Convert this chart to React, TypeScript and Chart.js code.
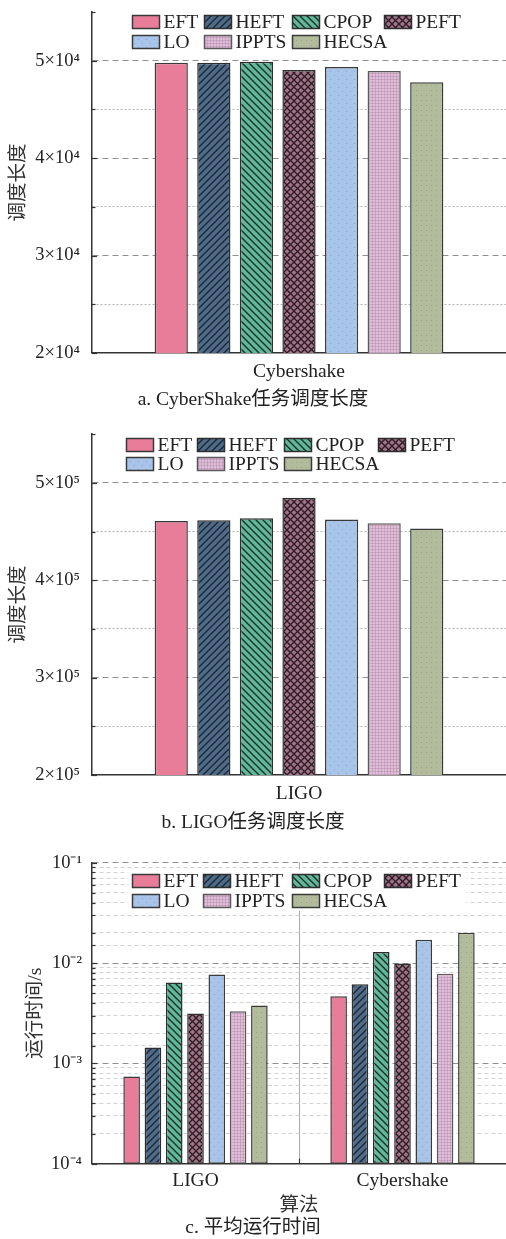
import React, { useEffect, useRef } from "react";
import { Chart, registerables } from "chart.js";

Chart.register(...registerables);

// ---------------- data ----------------
const ALGORITHMS = ["EFT", "HEFT", "CPOP", "PEFT", "LO", "IPPTS", "HECSA"];
const SINGLE_CYBERSHAKE = ["Cybershake"];
const SINGLE_LIGO = ["LIGO"];
const CYBERSHAKE_MAKESPAN = [49800, 49800, 49900, 49050, 49350, 48950, 47800];
const LIGO_MAKESPAN = [460800, 461500, 463600, 484700, 462200, 458500, 453000];
const RUNTIME_CATEGORIES = ["LIGO", "Cybershake"];
const RUNTIME_LIGO = [0.00074, 0.00144, 0.0064, 0.00315, 0.0077, 0.0033, 0.00377];
const RUNTIME_CYBERSHAKE = [0.00468, 0.00615, 0.0129, 0.0099, 0.0171, 0.0078, 0.02];
const CYBER_TICK_LABELS = ["2×10⁴", "3×10⁴", "4×10⁴", "5×10⁴"];
const LIGO_TICK_LABELS = ["2×10⁵", "3×10⁵", "4×10⁵", "5×10⁵"];
const LOG_TICK_LABELS = ["10⁻⁴", "10⁻³", "10⁻²", "10⁻¹"];

// ---------------- styles ----------------
const FONT = "'Liberation Serif', 'Times New Roman', 'Noto Sans CJK SC', serif";
Chart.defaults.font.family = FONT;
Chart.defaults.color = "#222";

type PatternKind = "solid" | "slash" | "backslash" | "cross" | "dots" | "grid" | "fineDots";

function makePattern(kind: PatternKind, bg: string, fg: string): CanvasPattern | string {
  if (kind === "solid") return bg;
  const s = kind === "cross" ? 7 : kind === "grid" ? 3 : kind === "dots" ? 8 : kind === "fineDots" ? 5 : 7;
  const c = document.createElement("canvas");
  c.width = s;
  c.height = s;
  const g = c.getContext("2d")!;
  g.fillStyle = bg;
  g.fillRect(0, 0, s, s);
  g.strokeStyle = fg;
  g.fillStyle = fg;
  g.lineWidth = 1.3;
  const line = (x1: number, y1: number, x2: number, y2: number) => {
    g.beginPath();
    g.moveTo(x1, y1);
    g.lineTo(x2, y2);
    g.stroke();
  };
  if (kind === "slash" || kind === "cross") {
    line(-1, s + 1, s + 1, -1);
    line(-1, 1, 1, -1);
    line(s - 1, s + 1, s + 1, s - 1);
  }
  if (kind === "backslash" || kind === "cross") {
    line(-1, -1, s + 1, s + 1);
    line(s - 1, -1, s + 1, 1);
    line(-1, s - 1, 1, s + 1);
  }
  if (kind === "dots") {
    g.fillRect(2, 2, 1, 1);
    g.fillRect(6, 6, 1, 1);
  }
  if (kind === "fineDots") {
    g.fillRect(1, 1, 1, 1);
  }
  if (kind === "grid") {
    g.globalAlpha = 0.3;
    g.fillRect(0, 0, s, 1);
    g.fillRect(0, 0, 1, s);
  }
  return g.createPattern(c, "repeat")!;
}

const STYLE_DEFS: { kind: PatternKind; bg: string; fg: string; border: string }[] = [
  { kind: "solid", bg: "#E87D9A", fg: "#E87D9A", border: "#3a3a3a" },
  { kind: "slash", bg: "#4E6C8A", fg: "#1d2530", border: "#2e2e2e" },
  { kind: "backslash", bg: "#5FB899", fg: "#1c2a25", border: "#2e2e2e" },
  { kind: "cross", bg: "#A27387", fg: "#2a1d23", border: "#2e2e2e" },
  { kind: "dots", bg: "#A8C4E8", fg: "#8ea9cf", border: "#3a3a3a" },
  { kind: "grid", bg: "#E0BDD8", fg: "#9c6f93", border: "#5a5a5a" },
  { kind: "fineDots", bg: "#B3BB9D", fg: "#9da688", border: "#3a3a3a" },
];

// ---------------- custom column legend ----------------
const gridLegend = {
  id: "gridLegend",
  afterDraw(chart: any, _args: any, opts: any) {
    const { ctx, chartArea } = chart;
    const cols: number[] = opts.cols;
    const rows: number[] = opts.rows;
    const boxW = 27;
    const boxH = 13;
    ctx.save();
    ctx.font = `19.5px ${FONT}`;
    const left = chartArea.left + cols[0] - 4;
    const right = chartArea.left + cols[3] + boxW + 4 + ctx.measureText("PEFT").width + 6;
    ctx.fillStyle = "#fff";
    ctx.fillRect(left, chartArea.top + rows[0] - 11, right - left, rows[1] - rows[0] + 22);
    chart.data.datasets.forEach((ds: any, i: number) => {
      const r = Math.floor(i / 4);
      const c = i % 4;
      const x = Math.round(chartArea.left + cols[c]) + 0.5;
      const y = Math.round(chartArea.top + rows[r] - boxH / 2) + 0.5;
      ctx.fillStyle = ds.backgroundColor;
      ctx.fillRect(x, y, boxW, boxH);
      ctx.lineWidth = 1.5;
      ctx.strokeStyle = ds.borderColor;
      ctx.strokeRect(x, y, boxW, boxH);
      ctx.fillStyle = "#222";
      ctx.textAlign = "left";
      ctx.textBaseline = "middle";
      ctx.fillText(ds.label, x + boxW + 4, y + boxH / 2 + 1);
    });
    ctx.restore();
  },
};

// ---------------- inward tick marks ----------------
const innerTicks = {
  id: "innerTicks",
  afterDatasetsDraw(chart: any, _args: any, opts: any) {
    const { ctx } = chart;
    const ys = chart.scales.y;
    const xs = chart.scales.x;
    ctx.save();
    ctx.strokeStyle = "#333";
    ctx.lineWidth = 1.2;
    ys.ticks.forEach((t: any, i: number) => {
      const py = Math.round(ys.getPixelForTick(i)) + 0.5;
      const len = opts.isMajor(t.value) ? 5 : 3.5;
      ctx.beginPath();
      ctx.moveTo(ys.right, py);
      ctx.lineTo(ys.right + len, py);
      ctx.stroke();
    });
    if (opts.xBoundaries) {
      const n = chart.data.labels.length;
      for (let i = 0; i < n - 1; i++) {
        const px = Math.round((xs.getPixelForValue(i) + xs.getPixelForValue(i + 1)) / 2) + 0.5;
        ctx.beginPath();
        ctx.moveTo(px, xs.top);
        ctx.lineTo(px, xs.top - 5);
        ctx.stroke();
      }
    }
    ctx.restore();
  },
};

function isMajor10(v: number) {
  const l = Math.log10(v);
  return Math.abs(l - Math.round(l)) < 1e-6;
}

function makeDatasets(values: number[][]) {
  return ALGORITHMS.map((name, i) => {
    const st = STYLE_DEFS[i];
    return {
      label: name,
      data: values.map((arr) => arr[i]),
      backgroundColor: makePattern(st.kind, st.bg, st.fg),
      borderColor: st.border,
      borderWidth: 1.5,
      borderSkipped: false,
      categoryPercentage: 0.72,
      barPercentage: 0.78,
    };
  });
}

function linearConfig(
  labels: string[],
  values: number[],
  unit: number,
  tickLabels: string[],
  caption: string,
  capPad: { top: number; bottom: number },
  legend: { cols: number[]; rows: number[] }
) {
  const min = unit * 2;
  const max = unit * 5.5;
  const isMajor = (v: number) => Math.round((v / unit) * 2) % 2 === 0;
  return {
    type: "bar",
    data: { labels, datasets: makeDatasets([values]) },
    plugins: [gridLegend, innerTicks],
    options: {
      animation: false,
      responsive: false,
      devicePixelRatio: 1,
      layout: { padding: { top: 0, left: 0, right: 0, bottom: 0 } },
      plugins: {
        legend: { display: false },
        tooltip: { enabled: false },
        title: {
          display: true,
          position: "bottom",
          text: caption,
          color: "#222",
          font: { size: 19.5, weight: "normal", family: FONT, lineHeight: 0.85 },
          padding: capPad,
        },
        gridLegend: legend,
        innerTicks: { isMajor, xBoundaries: false },
      },
      scales: {
        x: {
          grid: { display: false, drawTicks: false },
          border: { color: "#333", width: 1.5 },
          ticks: { color: "#222", font: { size: 19.5 }, padding: 7 },
        },
        y: {
          min,
          max,
          beginAtZero: false,
          afterFit: (s: any) => {
            s.width = 92;
          },
          ticks: {
            stepSize: unit / 2,
            autoSkip: false,
            padding: 12,
            color: "#222",
            font: { size: 18.5 },
            callback: (v: number) => {
              const k = Math.round((v / unit) * 2);
              if (k % 2 !== 0) return "";
              return tickLabels[k / 2 - 2] ?? "";
            },
          },
          grid: {
            drawTicks: false,
            lineWidth: 1,
            color: (c: any) => {
              const v = c.tick?.value;
              if (v == null || v <= min + 1e-9 || v >= max - 1e-9) return "rgba(0,0,0,0)";
              return isMajor(v) ? "#8f8f8f" : "#b5b5b5";
            },
          },
          border: {
            color: "#333",
            width: 1.5,
            dash: (c: any) => {
              const v = c.tick?.value;
              if (v == null) return [];
              return isMajor(v) ? [6, 4] : [2, 2];
            },
          },
          title: {
            display: true,
            text: "调度长度",
            color: "#333",
            font: { size: 19.5, family: FONT },
            padding: { top: 7, bottom: 0 },
          },
        },
      },
    },
  };
}

function runtimeConfig() {
  return {
    type: "bar",
    data: { labels: RUNTIME_CATEGORIES, datasets: makeDatasets([RUNTIME_LIGO, RUNTIME_CYBERSHAKE]) },
    plugins: [gridLegend, innerTicks],
    options: {
      animation: false,
      responsive: false,
      devicePixelRatio: 1,
      layout: { padding: { top: 26.7, left: 0, right: 0, bottom: 0 } },
      plugins: {
        legend: { display: false },
        tooltip: { enabled: false },
        title: {
          display: true,
          position: "bottom",
          text: "c. 平均运行时间",
          color: "#222",
          font: { size: 19.5, weight: "normal", family: FONT, lineHeight: 1.0 },
          padding: { top: 3.9, bottom: 1.3 },
        },
        gridLegend: { cols: [40.3, 111.3, 199.7, 292], rows: [17.8, 37.3] },
        innerTicks: { isMajor: isMajor10, xBoundaries: true },
      },
      scales: {
        x: {
          grid: {
            display: true,
            drawTicks: false,
            lineWidth: 1,
            color: (c: any) => (c.index === 1 ? "#a8a8a8" : "rgba(0,0,0,0)"),
          },
          border: { color: "#333", width: 1.5 },
          ticks: { color: "#222", font: { size: 19.5 }, padding: 5 },
          title: {
            display: true,
            text: "算法",
            color: "#333",
            font: { size: 19.5, family: FONT, lineHeight: 0.85 },
            padding: { top: 0.6, bottom: 0 },
          },
        },
        y: {
          type: "logarithmic",
          min: 0.0001,
          max: 0.1,
          afterFit: (s: any) => {
            s.width = 92;
          },
          ticks: {
            autoSkip: false,
            padding: 10,
            color: "#222",
            font: { size: 18.5 },
            callback: (v: number) => {
              if (!isMajor10(v)) return "";
              const e = Math.round(Math.log10(v));
              return LOG_TICK_LABELS[e + 4] ?? "";
            },
          },
          grid: {
            drawTicks: false,
            lineWidth: 1,
            color: (c: any) => {
              const v = c.tick?.value;
              if (v == null) return "rgba(0,0,0,0)";
              if (isMajor10(v)) {
                return Math.round(Math.log10(v)) === -4 ? "rgba(0,0,0,0)" : "#8f8f8f";
              }
              return "#d2d2d2";
            },
          },
          border: {
            color: "#333",
            width: 1.5,
            dash: (c: any) => {
              const v = c.tick?.value;
              if (v == null) return [];
              return isMajor10(v) ? [6, 4] : [4, 3];
            },
          },
          title: {
            display: true,
            text: "运行时间/s",
            color: "#333",
            font: { size: 19.5, family: FONT },
            padding: { top: 24, bottom: 0 },
          },
        },
      },
    },
  };
}

function ChartBox({ top, height, build }: { top: number; height: number; build: () => any }) {
  const ref = useRef<HTMLCanvasElement | null>(null);
  useEffect(() => {
    if (!ref.current) return;
    const chart = new Chart(ref.current, build());
    return () => chart.destroy();
  }, []);
  return (
    <div style={{ position: "absolute", left: 0, top, width: 506, height }}>
      <canvas ref={ref} width={506} height={height} style={{ display: "block", width: 506, height }} />
    </div>
  );
}

export default function App() {
  return (
    <div
      style={{
        position: "absolute",
        left: 0,
        top: 0,
        width: 506,
        height: 1239,
        overflow: "hidden",
        background: "#fff",
      }}
    >
      <ChartBox
        top={-11}
        height={434}
        build={() =>
          linearConfig(
            SINGLE_CYBERSHAKE,
            CYBERSHAKE_MAKESPAN,
            10000,
            CYBER_TICK_LABELS,
            "a. CyberShake任务调度长度",
            { top: 1, bottom: 15.1 },
            { cols: [40, 112, 200, 292], rows: [9.5, 29] }
          )
        }
      />
      <ChartBox
        top={410.7}
        height={432.3}
        build={() =>
          linearConfig(
            SINGLE_LIGO,
            LIGO_MAKESPAN,
            100000,
            LIGO_TICK_LABELS,
            "b. LIGO任务调度长度",
            { top: 1.9, bottom: 12.1 },
            { cols: [33.7, 105, 192, 285.7], rows: [10.3, 29.8] }
          )
        }
      />
      <ChartBox top={836} height={403} build={runtimeConfig} />
    </div>
  );
}
